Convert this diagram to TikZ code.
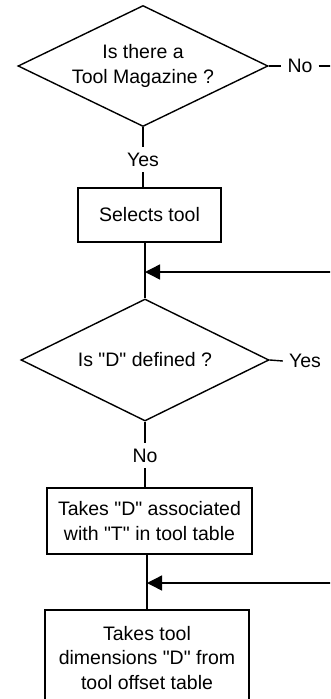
\documentclass[tikz,border=0pt]{standalone}
\usepackage{fontspec}
\setmainfont{Liberation Sans}[Ligatures=TeXOff]
\usetikzlibrary{shapes.geometric,arrows.meta}
\begin{document}
\begin{tikzpicture}[x=1pt,y=-1pt,
  every node/.style={font=\fontsize{19.5pt}{24.5pt}\selectfont},
  dec/.style={draw, diamond, inner sep=0pt, aspect=2.05, align=center, line width=1.4pt},
  proc/.style={draw, rectangle, inner sep=0pt, align=center, line width=1.4pt},
  lbl/.style={inner xsep=6pt, inner ysep=0pt},
  vlbl/.style={inner xsep=0pt, minimum height=25pt, inner ysep=0pt},
  conn/.style={line width=1.4pt},
  arr/.style={line width=1.4pt, -{Triangle[length=15pt,width=15pt]}}
]
\useasboundingbox (0,0) rectangle (330,699);
\clip (0,0) rectangle (330,699);

\node[dec, minimum width=250pt, minimum height=121pt] (d1) at (143,66) {Is there a\\Tool Magazine ?};
\node[lbl] (no1) at (300,66) {No};
\coordinate (no1end) at (331,66);
\node[vlbl] (yes1) at (143,159.5) {Yes};
\node[proc, minimum width=143pt, minimum height=54pt] (box1) at (149.5,215) {Selects tool};

\node[dec, minimum width=248pt, minimum height=122pt] (d2) at (145,360) {Is "D" defined ?};
\coordinate (in1) at (331,272);
\node[lbl] (yes2) at (305,361) {Yes};
\node[vlbl] (no2) at (145,455.5) {No};
\node[proc, minimum width=205pt, minimum height=66pt] (box2) at (149.5,521) {Takes "D" associated\\with "T" in tool table};

\coordinate (in2) at (331,583);
\node[proc, minimum width=204pt, minimum height=96pt] (box3) at (147,658) {Takes tool\\dimensions "D" from\\tool offset table};

\draw[conn] (d1.east) -- (no1.west);
\draw[conn] (no1.east) -- (no1end);
\draw[conn] (d1.south) -- (yes1.north);
\draw[conn] (yes1.south) -- (box1.north -| yes1.south);
\draw[conn] (d2.north |- box1.south) -- (d2.north);
\draw[arr] (in1) -- (in1 -| d2.north);
\draw[conn] (d2.east) -- (yes2.west);
\draw[conn] (d2.south) -- (no2.north);
\draw[conn] (no2.south) -- (box2.north -| no2.south);
\draw[conn] (box3.north |- box2.south) -- (box3.north);
\draw[arr] (in2) -- (in2 -| box3.north);
\end{tikzpicture}
\end{document}
